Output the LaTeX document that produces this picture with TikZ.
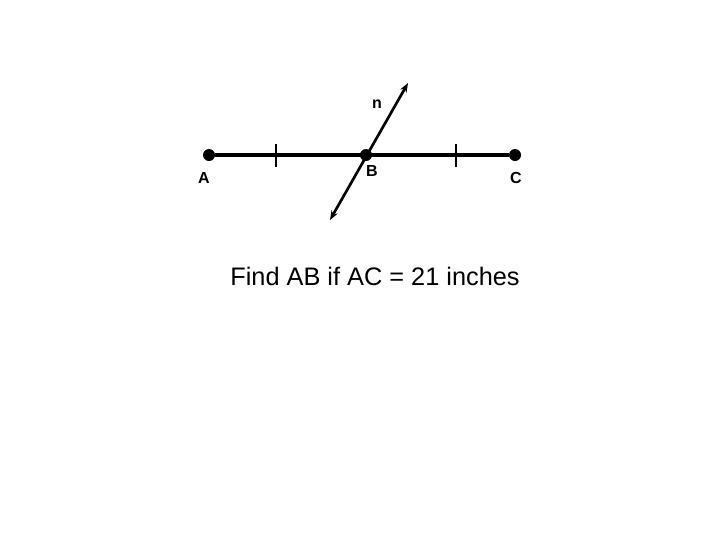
\documentclass[tikz,border=0pt]{standalone}
\usepackage{fontspec}
\setmainfont{Liberation Sans}
\usetikzlibrary{arrows.meta, positioning}

\begin{document}
\begin{tikzpicture}[x=0.75pt, y=-0.75pt]
		\useasboundingbox (0,0) rectangle (720,540);
		\tikzset{pt/.style={circle, fill, inner sep=0pt, minimum size=9pt},
			lbl/.style={font=\fontsize{12}{14}\selectfont\bfseries, inner sep=0pt}}
		\draw (209,155) node[pt] (A){}
		(366,155) node[pt] (B){}
		(515,155) node[pt] (C){}
		(276,144) coordinate (t1) (276,167) coordinate (t1b)
		(456,144) coordinate (t2) (456,167) coordinate (t2b)
		(408,83) coordinate (n1)
		(330,220) coordinate (n2);
		\draw (204,178) node[lbl] (la){A}
		(372,171) node[lbl] (lb){B}
		(516,178) node[lbl] (lc){C}
		(377,104) node[lbl] (ln){n}
		(375,276) node[inner sep=0pt, font=\fontsize{19}{21}\selectfont] (q){Find AB if AC = 21 inches};
		
		\draw[line width=3pt] (A) -- (C);
		\draw[line width=1.5pt] (t1) -- (t1b);
		\draw[line width=1.5pt] (t2) -- (t2b);
		\draw[line width=2pt, {Stealth[length=7pt]}-{Stealth[length=7pt]}] (n2) -- (n1);
	\end{tikzpicture}
\end{document}
